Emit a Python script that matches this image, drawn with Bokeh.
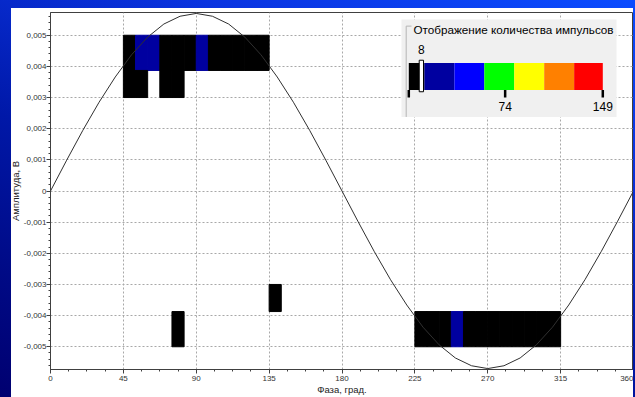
from bisect import bisect_right

from bokeh.core.properties import value
from bokeh.embed import file_html
from bokeh.layouts import column
from bokeh.models import CustomJSTickFormatter, FixedTicker, Range1d
from bokeh.plotting import figure
from bokeh.resources import INLINE

# ---------------------------------------------------------------- data
# Supply-voltage reference curve, phase in degrees, amplitude in volts
SINE_PHASE = list(range(0, 361, 10))
SINE_AMPL = [
    0.0, 0.00099, 0.00195, 0.00285, 0.00366, 0.00437, 0.00494, 0.00536, 0.00561, 0.0057,
    0.00561, 0.00536, 0.00494, 0.00437, 0.00366, 0.00285, 0.00195, 0.00099, 0.0,
    -0.00099, -0.00195, -0.00285, -0.00366, -0.00437, -0.00494, -0.00536, -0.00561, -0.0057,
    -0.00561, -0.00536, -0.00494, -0.00437, -0.00366, -0.00285, -0.00195, -0.00099, 0.0,
]

# Pulse-count cells: phase bin start (deg), amplitude band (V), pulse count
CELL_PHASE = [
    45, 52.5, 60, 67.5, 75, 82.5, 90, 97.5, 105, 112.5, 120, 127.5,
    45, 52.5, 67.5, 75,
    75, 225, 232.5, 240, 247.5, 255, 262.5, 270, 277.5, 285, 292.5, 300, 307.5,
    135,
]
CELL_LOW = (
    [0.00387] * 12
    + [0.003] * 4
    + [-0.005] * 13
    + [-0.00387]
)
CELL_HIGH = (
    [0.005] * 12
    + [0.00387] * 4
    + [-0.00387] * 13
    + [-0.003]
)
CELL_COUNT = [
    10, 18, 16, 11, 10, 9, 15, 10, 9, 9, 8, 8,
    9, 8, 9, 8,
    8, 9, 10, 11, 17, 11, 10, 11, 10, 9, 9, 8, 8,
    8,
]
PHASE_BIN = 7.5

# Colour scale for pulse counts
COLOR_EDGES = [0, 12, 35, 58, 81, 104, 127, 149]
COLORS = ["#000000", "#0000A0", "#0000FF", "#00FF00", "#FFFF00", "#FF8000", "#FF0000"]
SCALE_TICKS = [0, 74, 149]
THRESHOLD = 8

X_TICKS = [0, 45, 90, 135, 180, 225, 270, 315, 360]
Y_TICKS = [-0.005, -0.004, -0.003, -0.002, -0.001, 0.0, 0.001, 0.002, 0.003, 0.004, 0.005]

# ---------------------------------------------------------------- figure
FRAME_W, FRAME_H = 583, 359
B_LEFT, B_TOP, B_BOTTOM = 40, 4, 26
SHIFT = 5  # left axis needs a few pixels more than the white panel margin

p = figure(
    frame_width=FRAME_W, frame_height=FRAME_H,
    x_range=Range1d(0, 360), y_range=Range1d(-0.00573, 0.00573),
    output_backend="svg", toolbar_location=None,
    min_border_left=B_LEFT, min_border_right=0,
    min_border_top=B_TOP, min_border_bottom=B_BOTTOM,
    background_fill_color="white", border_fill_color=None,
    styles={"background": f"linear-gradient(to right, transparent {SHIFT}px, white {SHIFT}px)"},
)
p.margin = (8, 0, 0, 11 - SHIFT)
p.outline_line_color = "#404040"

# frame-offset ranges (pixels from the frame's top-left) for the scale box
p.extra_x_ranges = {"lx": Range1d(0, FRAME_W)}
p.extra_y_ranges = {"ly": Range1d(FRAME_H, 0)}

# count range for the colour bar
BAR_X0, BAR_X1 = 358.3, 552.3
BAR_Y0, BAR_Y1 = 50.7, 78.0
px_per_count = (BAR_X1 - BAR_X0) / COLOR_EDGES[-1]
p.extra_x_ranges["cnt"] = Range1d(-BAR_X0 / px_per_count, (FRAME_W - BAR_X0) / px_per_count)

# axes
x_minor = [i * 11.25 for i in range(33)]
y_minor = [round(-0.0056 + i * 0.0002, 5) for i in range(57)]
p.xaxis.ticker = FixedTicker(ticks=X_TICKS, minor_ticks=x_minor)
p.yaxis.ticker = FixedTicker(ticks=Y_TICKS, minor_ticks=y_minor)
p.xgrid.ticker = FixedTicker(ticks=X_TICKS)
p.ygrid.ticker = FixedTicker(ticks=Y_TICKS)
p.yaxis.formatter = CustomJSTickFormatter(
    code="return Math.abs(tick) < 1e-12 ? '0' : tick.toFixed(3).replace('.', ',');"
)
p.xaxis.formatter = CustomJSTickFormatter(code="return Math.round(tick).toString();")

for ax in (p.xaxis, p.yaxis):
    ax.axis_line_color = "#404040"
    ax.major_tick_line_color = "#404040"
    ax.minor_tick_line_color = "#404040"
    ax.major_tick_out = 4
    ax.major_tick_in = 0
    ax.minor_tick_out = 2
    ax.minor_tick_in = 0
    ax.major_label_text_font = "Liberation Sans"
    ax.major_label_text_font_size = "8px"
    ax.major_label_text_color = "#333333"
    ax.axis_label_text_font = "Liberation Sans"
    ax.axis_label_text_font_size = "9.5px"
    ax.axis_label_text_font_style = "normal"
    ax.axis_label_text_color = "#222222"
    ax.axis_label_standoff = 0

p.xaxis.major_label_standoff = 2
p.yaxis.major_label_standoff = 0
p.xaxis.axis_label = "Фаза, град."
p.yaxis.axis_label = "Амплитуда, В"

p.grid.grid_line_color = "#A8A8A8"
p.grid.grid_line_dash = "2 2"
p.grid.grid_line_width = 1

# ---------------------------------------------------------------- cells
def count_color(c):
    i = min(bisect_right(COLOR_EDGES, c) - 1, len(COLORS) - 1)
    return COLORS[i]

cell_colors = [count_color(c) for c in CELL_COUNT]
p.quad(
    left=CELL_PHASE,
    right=[ph + PHASE_BIN for ph in CELL_PHASE],
    bottom=CELL_LOW, top=CELL_HIGH,
    fill_color=cell_colors, line_color=cell_colors, line_width=1,
)

# reference sine
p.line(SINE_PHASE, SINE_AMPL, line_color="#303030", line_width=1)

# ---------------------------------------------------------------- scale box
p.quad(left=[351], right=[566], top=[7], bottom=[105],
       x_range_name="lx", y_range_name="ly",
       fill_color="#F0F0F0", line_color=None)
# group-box frame line
p.line(x=[361, 355.7, 355.7], y=[13.7, 13.7, 105],
       x_range_name="lx", y_range_name="ly",
       line_color="#B4B4B4", line_width=1)
p.text(x=[363], y=[17.5], text=["Отображение количества импульсов"],
       x_range_name="lx", y_range_name="ly",
       text_font=value("Liberation Sans"), text_font_size="11.7px",
       text_color="#000000", text_align="left", text_baseline="middle")

# colour bar
p.quad(left=COLOR_EDGES[:-1], right=COLOR_EDGES[1:],
       top=[BAR_Y0] * len(COLORS), bottom=[BAR_Y1] * len(COLORS),
       x_range_name="cnt", y_range_name="ly",
       fill_color=COLORS, line_color=None)

# scale ticks and labels
p.segment(x0=SCALE_TICKS, x1=SCALE_TICKS, y0=[BAR_Y1] * 3, y1=[BAR_Y1 + 7.5] * 3,
          x_range_name="cnt", y_range_name="ly",
          line_color="#000000", line_width=2.5)
p.text(x=SCALE_TICKS[1:], y=[94.7, 94.7], text=[str(t) for t in SCALE_TICKS[1:]],
       x_range_name="cnt", y_range_name="ly",
       text_font=value("Liberation Sans"), text_font_size="12px",
       text_color="#000000", text_align="center", text_baseline="middle")

# threshold slider
slider_w = 4.3 / px_per_count
p.quad(left=[THRESHOLD], right=[THRESHOLD + slider_w], top=[48], bottom=[79.7],
       x_range_name="cnt", y_range_name="ly",
       fill_color="white", line_color="#000000", line_width=1)
p.text(x=[THRESHOLD + slider_w / 2], y=[37.3], text=[str(THRESHOLD)],
       x_range_name="cnt", y_range_name="ly",
       text_font=value("Liberation Sans"), text_font_size="12px",
       text_color="#000000", text_align="center", text_baseline="middle")

page = column(
    p, width=635, height=397,
    styles={
        "background": "linear-gradient(200deg, #0a4cff 0%, #0a34e0 25%, #0018a8 55%, #000a86 80%, #000070 100%)",
        "overflow": "hidden",
    },
)

open("out.html", "w").write(file_html(page, INLINE))
